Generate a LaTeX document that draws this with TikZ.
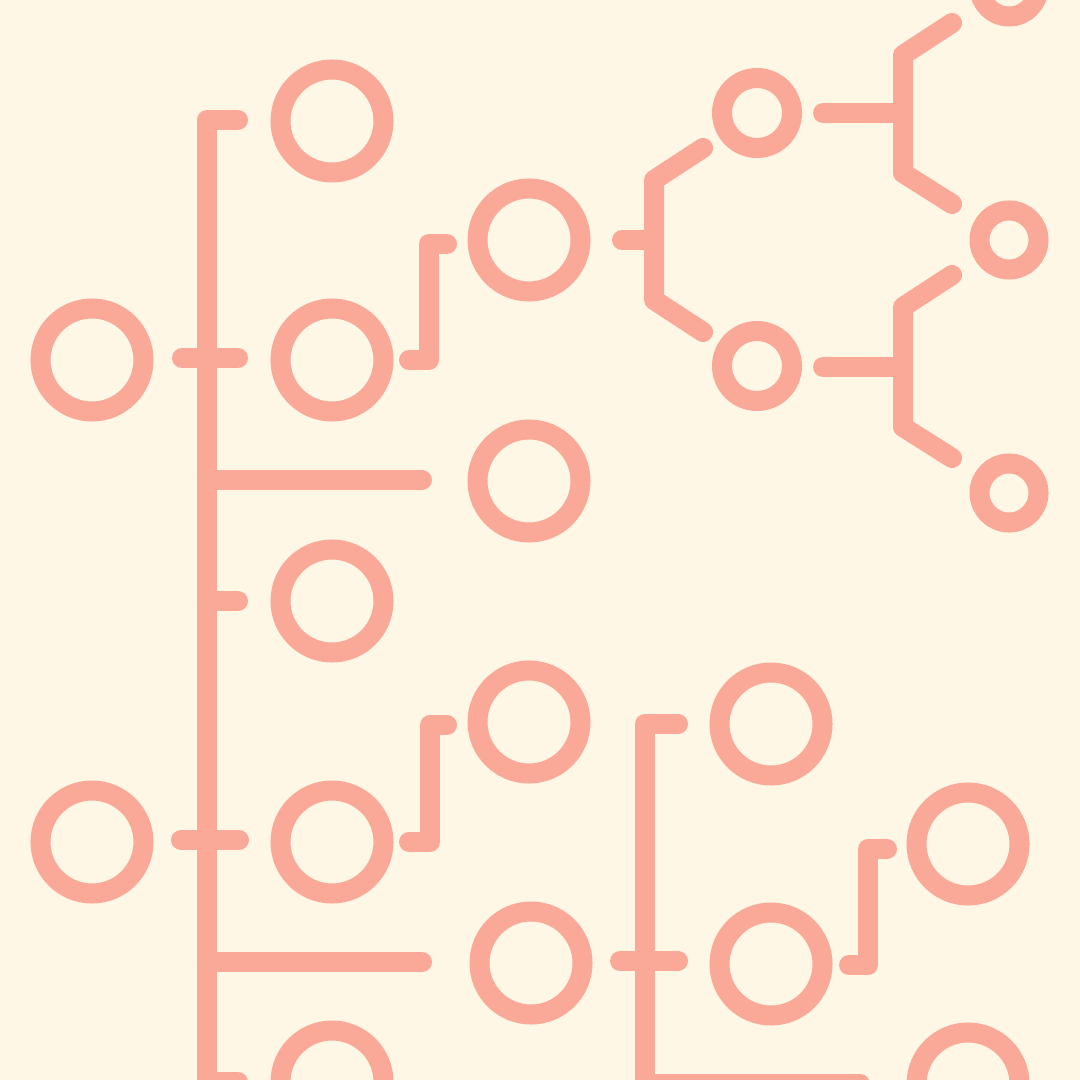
\documentclass[tikz,border=0pt]{standalone}
\usepackage{tikz}
\usetikzlibrary{calc,positioning}

\definecolor{cream}{HTML}{FFF7E6}
\definecolor{salmon}{HTML}{FAA898}

\begin{document}
\begin{tikzpicture}[x=0.01cm,y=-0.01cm,
    wire/.style={draw=salmon,line width=0.2cm,line cap=round,line join=round},
    ring/.style={draw=salmon,line width=0.2cm}]
  % background, fixes the frame
  \fill[cream] (0,0) rectangle (1080,1080);
  \useasboundingbox (0,0) rectangle (1080,1080);

  % large rings
  \foreach \name/\px/\py in {a1/332/121, a2/92/360, a3/332/360, a4/529/240,
      a5/529/481, a6/332/601, a7/529/722, a8/92/842, a9/332/842, a10/531/963,
      a11/771/724, a12/771/964, a13/968/844, a14/968/1084, a15/332/1082}
    \coordinate (\name) at (\px,\py);
  % medium and small rings
  \coordinate (m1) at (757,113);
  \coordinate (m2) at (757,366);
  \coordinate (s1) at (1009,-13);
  \coordinate (s2) at (1009,240);
  \coordinate (s3) at (1009,493);

  \foreach \name in {a1,a2,a3,a4,a5,a6,a7,a8,a9,a10,a11,a12,a13,a14,a15}
    \draw[ring] (\name) circle (51.5);
  \draw[ring] (m1) circle (35);
  \draw[ring] (m2) circle (35);
  \foreach \name in {s1,s2,s3}
    \draw[ring] (\name) circle (29.5);

  % main spine with its ticks
  \coordinate (top) at (207,120);
  \coordinate (foot) at (207,1082);
  \draw[wire] (238,120) -- (top) -- (207,1120);
  \draw[wire] (182,358) -- (238,358);
  \draw[wire] (207,480) -- (422,480);
  \draw[wire] (207,601) -- (238,601);
  \draw[wire] (181,840) -- (239,840);
  \draw[wire] (207,962) -- (422,962);
  \draw[wire] (foot) -- (238,1082);

  % steps between the columns
  \draw[wire] (409,360) -- (429,360) -- (429,244) -- (447,244);
  \draw[wire] (409,842) -- (430,842) -- (430,725) -- (447,725);
  \draw[wire] (849,965) -- (868,965) -- (868,849) -- (887,849);

  % forks
  \draw[wire] (622,240) -- (654,240);
  \draw[wire] (703,148) -- (654,180) -- (654,300) -- (703,332);
  \draw[wire] (823,113) -- (903,113);
  \draw[wire] (952,23) -- (903,55) -- (903,173) -- (952,204);
  \draw[wire] (823,367) -- (903,367);
  \draw[wire] (952,275) -- (903,307) -- (903,427) -- (952,458);

  % second spine
  \draw[wire] (678,724) -- (645,724) -- (645,1084) -- (860,1084);
  \draw[wire] (620,961) -- (678,961);
\end{tikzpicture}
\end{document}
